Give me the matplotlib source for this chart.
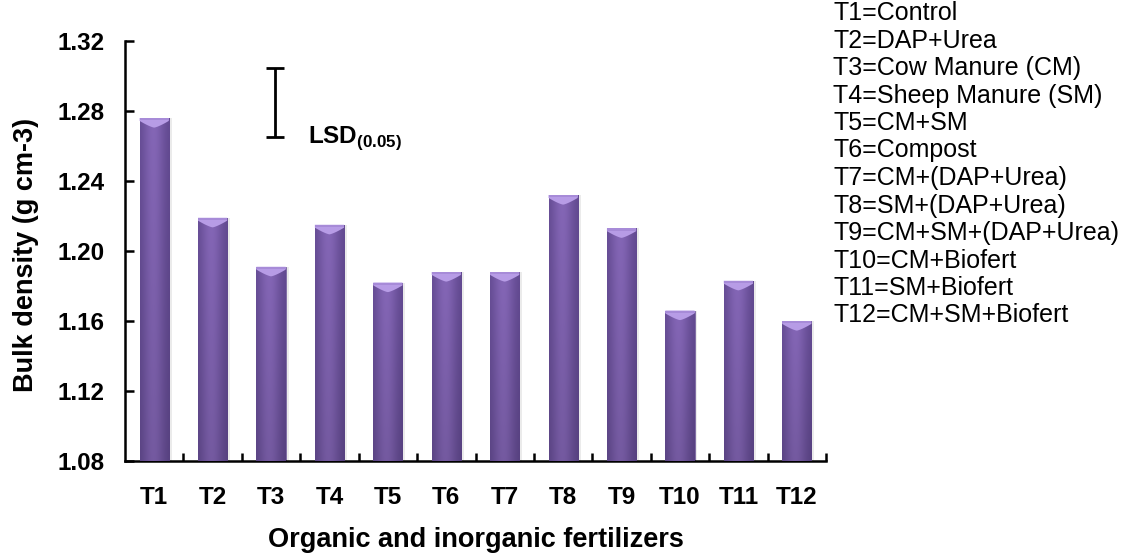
import numpy as np
import matplotlib
matplotlib.use("Agg")
import matplotlib.pyplot as plt
from matplotlib.patches import Polygon

# ---- data ----
categories = ["T1", "T2", "T3", "T4", "T5", "T6", "T7", "T8", "T9", "T10", "T11", "T12"]
bulk_density = [1.276, 1.219, 1.191, 1.215, 1.182, 1.188, 1.188, 1.232, 1.213, 1.166, 1.183, 1.160]
y_ticks = [1.08, 1.12, 1.16, 1.20, 1.24, 1.28, 1.32]
lsd_center = 1.285
lsd_value = 0.0394
legend_lines = [
    "T1=Control", "T2=DAP+Urea", "T3=Cow Manure (CM)", "T4=Sheep Manure (SM)",
    "T5=CM+SM", "T6=Compost", "T7=CM+(DAP+Urea)", "T8=SM+(DAP+Urea)",
    "T9=CM+SM+(DAP+Urea)", "T10=CM+Biofert", "T11=SM+Biofert", "T12=CM+SM+Biofert",
]

plt.rcParams['font.family'] = ['Liberation Sans', 'DejaVu Sans']
plt.rcParams['mathtext.fontset'] = 'custom'
plt.rcParams['mathtext.rm'] = 'Liberation Sans'
plt.rcParams['mathtext.bf'] = 'Liberation Sans:bold'

fig = plt.figure(figsize=(11.26, 5.58), dpi=100)
ax = fig.add_axes([125/1126, 1-461/558, 701/1126, 420/558])

ymin, ymax = y_ticks[0], y_ticks[-1]
x = np.arange(len(categories))
w = 0.5

# soft shadow
ax.bar(x + 0.05, np.array(bulk_density) - ymin, w, bottom=ymin,
       color='#000000', alpha=0.08, zorder=1, linewidth=0)
bars = ax.bar(x, np.array(bulk_density) - ymin, w, bottom=ymin,
              color='#7456A8', zorder=2, linewidth=0.6, edgecolor='#7A66A0')

light = np.array([0x84, 0x66, 0xB6]) / 255.0
dark = np.array([0x5E, 0x46, 0x8C]) / 255.0
M, N = 80, 80
u = np.linspace(0, 1, M)
prof = np.exp(-((u - 0.45) / 0.38) ** 2)
s = np.linspace(0, 1, N)[:, None]
for b, v in zip(bars, bulk_density):
    x0 = b.get_x(); x1 = x0 + b.get_width()
    base = dark + (light - dark) * prof[:, None]       # M x 3
    img = base[None, :, :] * (0.88 + 0.12 * s)[:, :, None]
    im = ax.imshow(np.clip(img, 0, 1), extent=[x0, x1, ymin, v], aspect='auto',
                   origin='lower', zorder=3, interpolation='bicubic')
    im.set_clip_path(b)
    # top cap highlight
    d = 0.0055
    uu = np.linspace(0, 1, 40)
    xs = x0 + (x1 - x0) * uu
    ys = v - d * (0.3 + 0.7 * (1 - np.abs(2 * uu - 1) ** 1.3))
    pts = [(x0, v)] + list(zip(xs, ys)) + [(x1, v)]
    ax.add_patch(Polygon(pts, closed=True, facecolor='#B79CE6', edgecolor='none', zorder=4))
    ax.add_patch(Polygon([(x0, v), (x1, v), (x1, v - d * 0.25), (x0, v - d * 0.25)],
                         closed=True, facecolor='#A78BD8', edgecolor='none', zorder=4))

# LSD bar
ax.errorbar([2.07], [lsd_center], yerr=[[lsd_value / 2], [lsd_value / 2]], fmt='none',
            ecolor='black', elinewidth=2, capsize=6.5, capthick=2, zorder=5)
ax.text(2.63, lsd_center - lsd_value / 2 - 0.0032, r'$\mathbf{LSD}_{\mathbf{(0.05)}}$',
        fontsize=17.5, va='baseline', ha='left')

ax.set_xlim(-0.5, len(categories) - 0.5)
ax.set_ylim(ymin, ymax)
ax.set_yticks(y_ticks)
ax.set_yticklabels([f"{t:.2f}" for t in y_ticks], fontsize=17.5, fontweight='bold')
ax.set_xticks(x)
ax.set_xticklabels(categories, fontsize=17.5, fontweight='bold')
ax.set_xticks(np.arange(0.5, len(categories), 1.0), minor=True)
ax.tick_params(axis='x', which='major', length=0, pad=18)
ax.tick_params(axis='x', which='minor', direction='in', length=6, width=1.8)
ax.tick_params(axis='y', direction='in', length=6.5, width=1.8, pad=15)

for sp in ['top', 'right']:
    ax.spines[sp].set_visible(False)
for sp in ['left', 'bottom']:
    ax.spines[sp].set_linewidth(1.8)

ax.set_xlabel('Organic and inorganic fertilizers', fontsize=19.5, fontweight='bold')
ax.xaxis.set_label_coords(0.5, -0.158)
ax.set_ylabel('Bulk density (g cm-3)', fontsize=19.5, fontweight='bold')
ax.yaxis.set_label_coords(-0.123, 0.49)

for i, line in enumerate(legend_lines):
    fig.text(833/1126, 1 - (13 + 27.5 * i) / 558, line, fontsize=18, va='center', ha='left')

fig.savefig('out.png', dpi=100, facecolor='white')
